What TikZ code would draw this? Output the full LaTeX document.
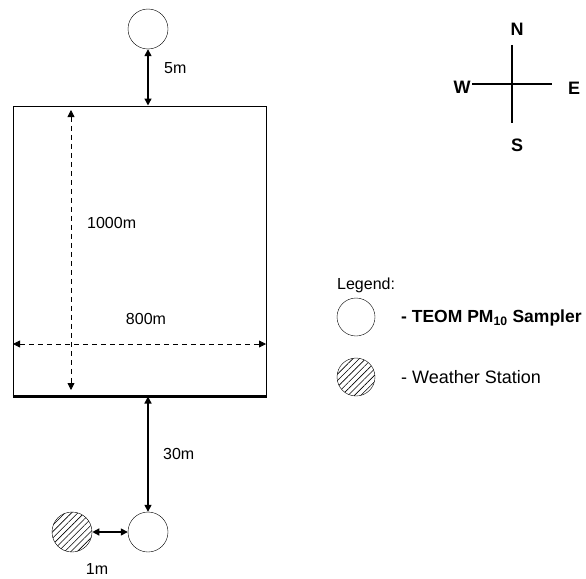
\documentclass[tikz,border=0pt]{standalone}
\usepackage{fontspec}
\setmainfont{Liberation Sans}
\usetikzlibrary{arrows.meta,positioning,patterns.meta}

\tikzset{
  sampler/.style={circle, draw, thin, minimum size=40pt, inner sep=0pt},
  station/.style={sampler, pattern={Lines[angle=45, distance=4.5pt, line width=0.6pt]}},
  dimline/.style={{Triangle[length=7pt,width=7pt]}-{Triangle[length=7pt,width=7pt]}, line width=1.4pt},
  dimdash/.style={{Triangle[length=7pt,width=7pt]}-{Triangle[length=7pt,width=7pt]}, line width=0.8pt, dash pattern=on 5pt off 4pt},
  lbl/.style={font=\fontsize{16}{19}\selectfont, inner sep=0pt},
  pole/.style={font=\fontsize{18}{21}\selectfont\bfseries, inner sep=0pt},
}

\begin{document}
\begin{tikzpicture}[x=1pt, y=-1pt]
\useasboundingbox (0,0) rectangle (586,578);

% site boundary
\node[draw, line width=1pt, minimum width=253pt, minimum height=290pt, inner sep=0pt] (field) at (139.5,251) {};
\draw[line width=2.2pt] (field.south west) -- (field.south east);

% samplers
\node[sampler] (topteom) at (148,29) {};
\node[sampler] (lowteom) at (148,532) {};
\node[station] (wstation) at (72,532) {};

% distances
\draw[dimline] (topteom.south) -- (topteom.south |- field.north);
\node[lbl, anchor=west] (d5) at (164,68) {5m};

\draw[dimline] (lowteom.north |- field.south) -- (lowteom.north);
\node[lbl, anchor=west] (d30) at (163,454) {30m};

\draw[dimline] (wstation.east) -- (lowteom.west);
\node[lbl] (d1) at (97,569) {1m};

% site dimensions
\coordinate (vtop) at (71,110);
\coordinate (vbot) at (71,390);
\coordinate (hleft) at (13,344);
\coordinate (hright) at (266,344);
\draw[dimdash] (vtop) -- (vbot);
\node[lbl, anchor=west] (d1000) at (87,223) {1000m};
\draw[dimdash] (hleft) -- (hright);
\node[lbl] (d800) at (146,319) {800m};

% compass
\coordinate (cc) at (512,84);
\draw[line width=1.5pt] (cc) ++(0,-39) -- ++(0,78);
\draw[line width=1.5pt] (cc) ++(-40,0) -- ++(80,0);
\node[pole] (pn) at (517,29) {N};
\node[pole] (ps) at (517,145) {S};
\node[pole] (pw) at (462,87) {W};
\node[pole] (pe) at (574,88) {E};

% legend
\node[lbl, anchor=west] (legend) at (337,285) {Legend:};
\node[sampler, minimum size=38pt] (keyteom) at (356,317) {};
\node[station, minimum size=38pt] (keystation) at (356,377) {};
\node[lbl, anchor=west, font=\fontsize{17.5}{20}\selectfont\bfseries] (keyteomtxt) at (401,318) {- TEOM PM\textsubscript{10} Sampler};
\node[lbl, anchor=west, font=\fontsize{18}{21}\selectfont] (keystationtxt) at (401,377) {- Weather Station};
\end{tikzpicture}
\end{document}
